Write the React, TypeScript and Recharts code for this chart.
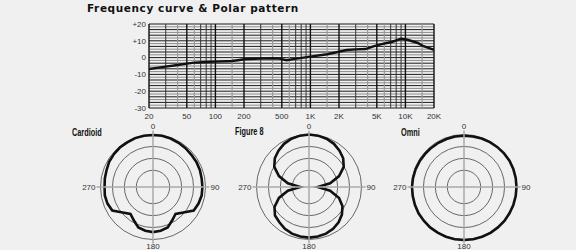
import React from 'react';
import {
  LineChart, Line, XAxis, YAxis, ReferenceLine,
  RadarChart, Radar, PolarGrid, PolarAngleAxis, PolarRadiusAxis,
} from 'recharts';

// frequency response (Hz / dB)
const freqs = [20, 30, 40, 50, 60, 80, 100, 150, 180, 200, 300, 400, 470, 560, 660, 1000, 1500, 2000, 2400, 3000, 3800, 4600, 5600, 7200, 9000, 10500, 13500, 15500, 20000];
const levels = [-6.8, -5.4, -4.4, -3.6, -3.0, -2.6, -2.4, -2.0, -1.4, -1.0, -0.6, -0.4, -0.6, -1.6, -0.9, 0.6, 2.0, 3.5, 4.5, 4.9, 5.1, 6.7, 8.0, 9.3, 11.3, 10.6, 8.7, 6.8, 4.6];

const xTicks = [20, 50, 100, 200, 500, 1000, 2000, 5000, 10000, 20000];
const yTicks = [-30, -20, -10, 0, 10, 20];
const darkFreqs = [30, 70, 80, 90, 300, 700, 800, 900, 3000, 7000, 8000, 9000];
const greyFreqs = [40, 60, 150, 400, 600, 1500, 4000, 6000, 15000];
const levelLines = Array.from({ length: 31 }, (_, i) => -30 + (i * 50) / 30);

// polar patterns, dB per 10 degrees
const angles = [0, 10, 20, 30, 40, 50, 60, 70, 80, 90, 100, 110, 120, 130, 140, 150, 160, 170, 180, 190, 200, 210, 220, 230, 240, 250, 260, 270, 280, 290, 300, 310, 320, 330, 340, 350];
const cardioid = [-0.2, -0.2, -0.4, -0.6, -0.8, -1.0, -1.0, -1.1, -1.3, -1.3, -1.3, -1.7, -2.3, -5.4, -7.3, -5.9, -4.0, -3.4, -3.1, -3.4, -4.0, -5.9, -7.3, -5.4, -2.3, -1.7, -1.5, -1.7, -1.5, -1.3, -0.8, -0.6, -0.4, -0.4, -0.2, -0.2];
const figure8 = [0, -0.15, -0.5, -1.1, -2.1, -3.3, -5.2, -8.6, -13.0, -18.3, -13.0, -8.6, -5.8, -4.0, -2.7, -1.8, -1.2, -0.9, -0.8, -0.9, -1.2, -1.8, -2.7, -3.4, -5.3, -8.6, -13.0, -18.3, -13.0, -8.6, -5.2, -3.3, -2.1, -1.1, -0.5, -0.15];
const omni = [-0.5, -0.5, -0.4, -0.3, -0.2, -0.1, 0, 0, 0, 0, 0, 0, 0, 0.1, 0.1, 0.2, 0.2, 0.2, 0.2, 0.2, 0.2, 0.1, 0.1, 0, 0, -0.1, -0.2, -0.2, -0.3, -0.4, -0.5, -0.6, -0.6, -0.6, -0.6, -0.5];
const ringLevels = [-15, -10, -5, 0];
const MIN_DB = -22;

const R = 52.5;
const TICK = 4;
const BG = '#f0f0f0';
const font = '"Liberation Sans", Arial, sans-serif';

const freqData = freqs.map((f, i) => ({ freq: f, db: levels[i] }));
const polarData = angles.map((a, i) => ({ angle: a, cardioid: cardioid[i], figure8: figure8[i], omni: omni[i] }));
const ringRadii = ringLevels.map((v) => (R * (v - MIN_DB)) / -MIN_DB);

const fmtFreq = (v: number) => (v >= 1000 ? `${v / 1000}K` : `${v}`);
const fmtDb = (v: number) => (v > 0 ? `+${v}` : `${v}`);

function AngleTick(props: any) {
  const { x, y, payload } = props;
  const v = payload.value;
  if (v % 90 !== 0) return <g />;
  const len = R + TICK;
  const txt = { fontSize: 8, fill: '#333', fontFamily: font } as const;
  let line: number[] = [];
  let label = null;
  if (v === 0) {
    line = [x, y, x, y + len];
    label = <text x={x} y={y - 1.5} textAnchor="middle" {...txt}>0</text>;
  } else if (v === 90) {
    line = [x, y, x - len, y];
    label = <text x={x + 1} y={y + 3} textAnchor="start" {...txt}>90</text>;
  } else if (v === 180) {
    line = [x, y, x, y - len];
    label = <text x={x} y={y + 5.5} textAnchor="middle" {...txt}>180</text>;
  } else {
    line = [x, y, x + len, y];
    label = <text x={x - 1} y={y + 3} textAnchor="end" {...txt}>270</text>;
  }
  return (
    <g>
      <line x1={line[0]} y1={line[1]} x2={line[2]} y2={line[3]} stroke="#aaa" strokeWidth={1.5} />
      {label}
    </g>
  );
}

function Polar({ dataKey, left, top }: { dataKey: string; left: number; top: number }) {
  return (
    <div style={{ position: 'absolute', left, top }}>
      <RadarChart width={150} height={133} data={polarData} cx={75} cy={70} outerRadius={R}
        margin={{ top: 0, right: 0, bottom: 0, left: 0 }}>
        <PolarGrid gridType="circle" radialLines={false} polarRadius={ringRadii} stroke="#444" strokeWidth={0.8} />
        <PolarRadiusAxis type="number" domain={[MIN_DB, 0]} allowDataOverflow tick={false} axisLine={false} />
        <PolarAngleAxis dataKey="angle" tick={(p: any) => <AngleTick {...p} />} tickLine={false} axisLine={false} tickSize={TICK} />
        <Radar dataKey={dataKey} stroke="#111" strokeWidth={2.6} fill="none" fillOpacity={0} dot={false} isAnimationActive={false} />
      </RadarChart>
    </div>
  );
}

export default function App() {
  const tickStyle = { fontSize: 8, fill: '#333', fontFamily: font };
  return (
    <div style={{ position: 'relative', width: 576, height: 250, background: BG, overflow: 'hidden' }}>
      <style>{`body{margin:0;background:${BG}}`}</style>
      <div style={{ position: 'absolute', left: 0, top: 0 }}>
        <LineChart width={576} height={125} data={freqData} margin={{ top: 24, right: 142, bottom: 3, left: 119 }}>
          <XAxis dataKey="freq" type="number" scale="log" domain={[20, 20000]} allowDataOverflow ticks={xTicks}
            tickFormatter={fmtFreq} interval={0} axisLine={false} tickLine={false} tickSize={0} tickMargin={5} height={14} tick={tickStyle} />
          <YAxis type="number" domain={[-30, 20]} ticks={yTicks} tickFormatter={fmtDb} interval={0}
            axisLine={false} tickLine={false} tickSize={0} tickMargin={3} width={30} tick={tickStyle} />
          {levelLines.map((v, i) => (
            <ReferenceLine key={`h${i}`} y={v} stroke={i % 2 === 0 ? '#1a1a1a' : '#8a8a8a'} strokeWidth={1} />
          ))}
          {greyFreqs.map((f) => (
            <ReferenceLine key={`g${f}`} x={f} stroke="#999" strokeWidth={1.2} />
          ))}
          {darkFreqs.map((f) => (
            <ReferenceLine key={`d${f}`} x={f} stroke="#333" strokeWidth={1} />
          ))}
          {xTicks.map((f) => (
            <ReferenceLine key={`m${f}`} x={f} stroke="#111" strokeWidth={1.4} />
          ))}
          <Line dataKey="db" type="linear" stroke="#111" strokeWidth={2.4} dot={false} isAnimationActive={false} />
        </LineChart>
      </div>
      <Polar dataKey="cardioid" left={77.5} top={117} />
      <Polar dataKey="figure8" left={233.5} top={117} />
      <Polar dataKey="omni" left={389} top={116.5} />
      <svg width={576} height={250} style={{ position: 'absolute', left: 0, top: 0, pointerEvents: 'none' }}>
        <text x={87} y={11.5} fontFamily='"DejaVu Sans", Verdana, sans-serif' fontWeight="bold" fontSize={10.5} letterSpacing={0.6} fill="#111">
          Frequency curve &amp; Polar pattern
        </text>
        <g fontFamily={font} fontWeight="bold" fontSize={10.5} fill="#111">
          <text x={72} y={136} transform="translate(72 0) scale(0.7 1) translate(-72 0)">Cardioid</text>
          <text x={235} y={135.5} transform="translate(235 0) scale(0.7 1) translate(-235 0)">Figure 8</text>
          <text x={401} y={136} transform="translate(401 0) scale(0.7 1) translate(-401 0)">Omni</text>
        </g>
      </svg>
    </div>
  );
}
